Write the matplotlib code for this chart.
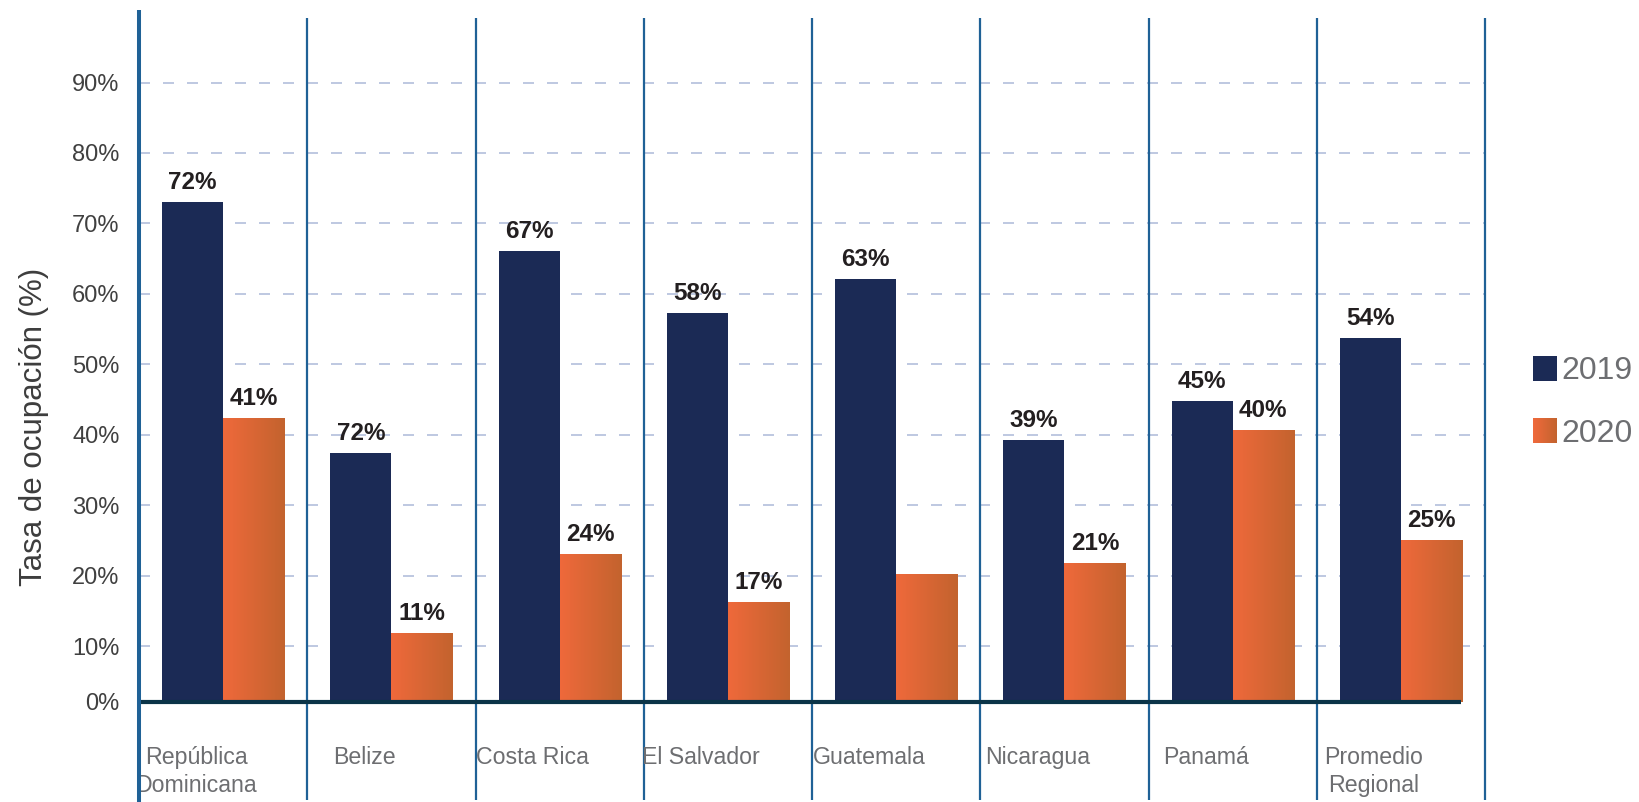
import numpy as np
import matplotlib
matplotlib.use("Agg")
import matplotlib.pyplot as plt
import matplotlib.transforms as mtransforms
from matplotlib.colors import LinearSegmentedColormap
from matplotlib.legend_handler import HandlerBase
from matplotlib.patches import Rectangle, Patch

plt.rcParams["font.family"] = ["Liberation Sans", "DejaVu Sans"]

# data
categories = ["República\nDominicana", "Belize", "Costa Rica", "El Salvador",
              "Guatemala", "Nicaragua", "Panamá", "Promedio\nRegional"]
occ_2019 = [73.0, 37.4, 66.1, 57.3, 62.1, 39.2, 44.8, 53.7]
occ_2020 = [42.4, 11.8, 23.1, 16.2, 20.2, 21.8, 40.7, 25.0]
labels_2019 = ["72%", "72%", "67%", "58%", "63%", "39%", "45%", "54%"]
labels_2020 = ["41%", "11%", "24%", "17%", "", "21%", "40%", "25%"]
tick_vals = [10, 20, 30, 40, 50, 60, 70, 80, 90]
tick_labels = ["10%", "20%", "30%", "40%", "50%", "60%", "70%", "80%", "90%"]
series_names = ["2019", "2020"]

# style
NAVY = "#1b2a55"
ORANGE_L = "#ef693b"
ORANGE_R = "#c3632e"
DIVIDER = "#1f6196"
BASELINE = "#0b3448"
GRID = "#b3bfdb"
TICK_COL = "#404040"
CAT_COL = "#6d6e71"
Y_BASE = 2.05   # where the drawn baseline sits on the value scale
Y_TOP = 100.3
BAR_W = 0.363

orange_cmap = LinearSegmentedColormap.from_list("org", [ORANGE_L, ORANGE_R])


class GradientHandler(HandlerBase):
    def create_artists(self, legend, orig_handle, xdescent, ydescent,
                       width, height, fontsize, trans):
        n = 24
        arts = []
        for k in range(n):
            r = Rectangle((-xdescent + width * k / n, -ydescent),
                          width / n * 1.1, height,
                          facecolor=orange_cmap(k / (n - 1)),
                          edgecolor="none", transform=trans)
            arts.append(r)
        return arts


fig = plt.figure(figsize=(16.39, 8.02), dpi=100)
W, H = 1639, 802
ax_left, ax_right, ax_top, ax_bottom = 139, 1485, 10, 702
ax = fig.add_axes([ax_left / W, (H - ax_bottom) / H,
                   (ax_right - ax_left) / W, (ax_bottom - ax_top) / H])

x = np.arange(len(categories))

bars19 = ax.bar(x - BAR_W / 2, occ_2019, width=BAR_W, color=NAVY, zorder=3)
bars20 = ax.bar(x + BAR_W / 2, occ_2020, width=BAR_W, color=ORANGE_L, zorder=3)

# horizontal gradient fill on the 2020 bars
grad = np.linspace(0, 1, 256).reshape(1, -1)
for b in bars20:
    x0 = b.get_x()
    im = ax.imshow(grad, cmap=orange_cmap, aspect="auto", zorder=3.5,
                   extent=(x0, x0 + b.get_width(), Y_BASE, b.get_height()))
    im.set_clip_path(b)

# value labels
for bars, labs in ((bars19, labels_2019), (bars20, labels_2020)):
    for b, lab in zip(bars, labs):
        if not lab:
            continue
        ax.annotate(lab, xy=(b.get_x() + b.get_width() / 2, b.get_height()),
                    xytext=(0, 9.4), textcoords="offset points",
                    ha="center", va="baseline", fontsize=17.5,
                    fontweight="bold", color="#231f20", zorder=5)

ax.set_xlim(-0.5, len(categories) - 0.5)
ax.set_ylim(Y_BASE, Y_TOP)

# dashed grid
for v in tick_vals:
    ax.axhline(v, color=GRID, lw=1.2, linestyle=(0, (6.6, 7.8)), zorder=1)

# vertical dividers
blend = mtransforms.blended_transform_factory(ax.transData, ax.transAxes)
ax_h = ax_bottom - ax_top
for i, xe in enumerate(np.arange(-0.5, len(categories))):
    if i == 0:
        ax.plot([xe, xe], [1.0, -(H - ax_bottom) / ax_h], transform=blend,
                color=DIVIDER, lw=2.9, clip_on=False, zorder=6,
                solid_capstyle="butt")
    else:
        ax.plot([xe, xe], [(ax_bottom - 18) / ax_h, -(H - 2 - ax_bottom) / ax_h],
                transform=blend, color=DIVIDER, lw=1.6, clip_on=False,
                zorder=2, solid_capstyle="butt")

# baseline
ax.plot([-0.5, len(categories) - 0.5 - 0.14], [Y_BASE, Y_BASE], color=BASELINE,
        lw=3.0, clip_on=False, zorder=4, solid_capstyle="butt")

for s in ax.spines.values():
    s.set_visible(False)

ax.set_xticks([])
ax.set_yticks([Y_BASE] + tick_vals)
ax.set_yticklabels(["0%"] + tick_labels)
ax.tick_params(axis="y", length=0, pad=14, labelsize=17, labelcolor=TICK_COL)

# category labels
line_y = [-(764 - ax_bottom) / ax_h, -(791.7 - ax_bottom) / ax_h]
for i, cat in enumerate(categories):
    for j, line in enumerate(cat.split("\n")):
        ax.text(i - 0.16, line_y[j], line, transform=blend, ha="center",
                va="baseline", fontsize=16.7, color=CAT_COL)

fig.text(34.5 / W, 1 - 427 / H, "Tasa de ocupación (%)", rotation=90,
         ha="center", va="center", fontsize=22.5, color="#3d3d3d")

handles = [Patch(facecolor=NAVY), Patch(facecolor=ORANGE_L)]
fs_px = 23 * 100 / 72
leg = fig.legend(handles, series_names, loc="center left",
                 bbox_to_anchor=(1533 / W, 1 - 402.3 / H),
                 bbox_transform=fig.transFigure, frameon=False,
                 fontsize=23, handlelength=24 / fs_px, handleheight=26 / fs_px,
                 handletextpad=0.15, labelspacing=1.0, borderpad=0,
                 borderaxespad=0, labelcolor=CAT_COL,
                 handler_map={handles[1]: GradientHandler()})

fig.savefig("out.png", dpi=100)
